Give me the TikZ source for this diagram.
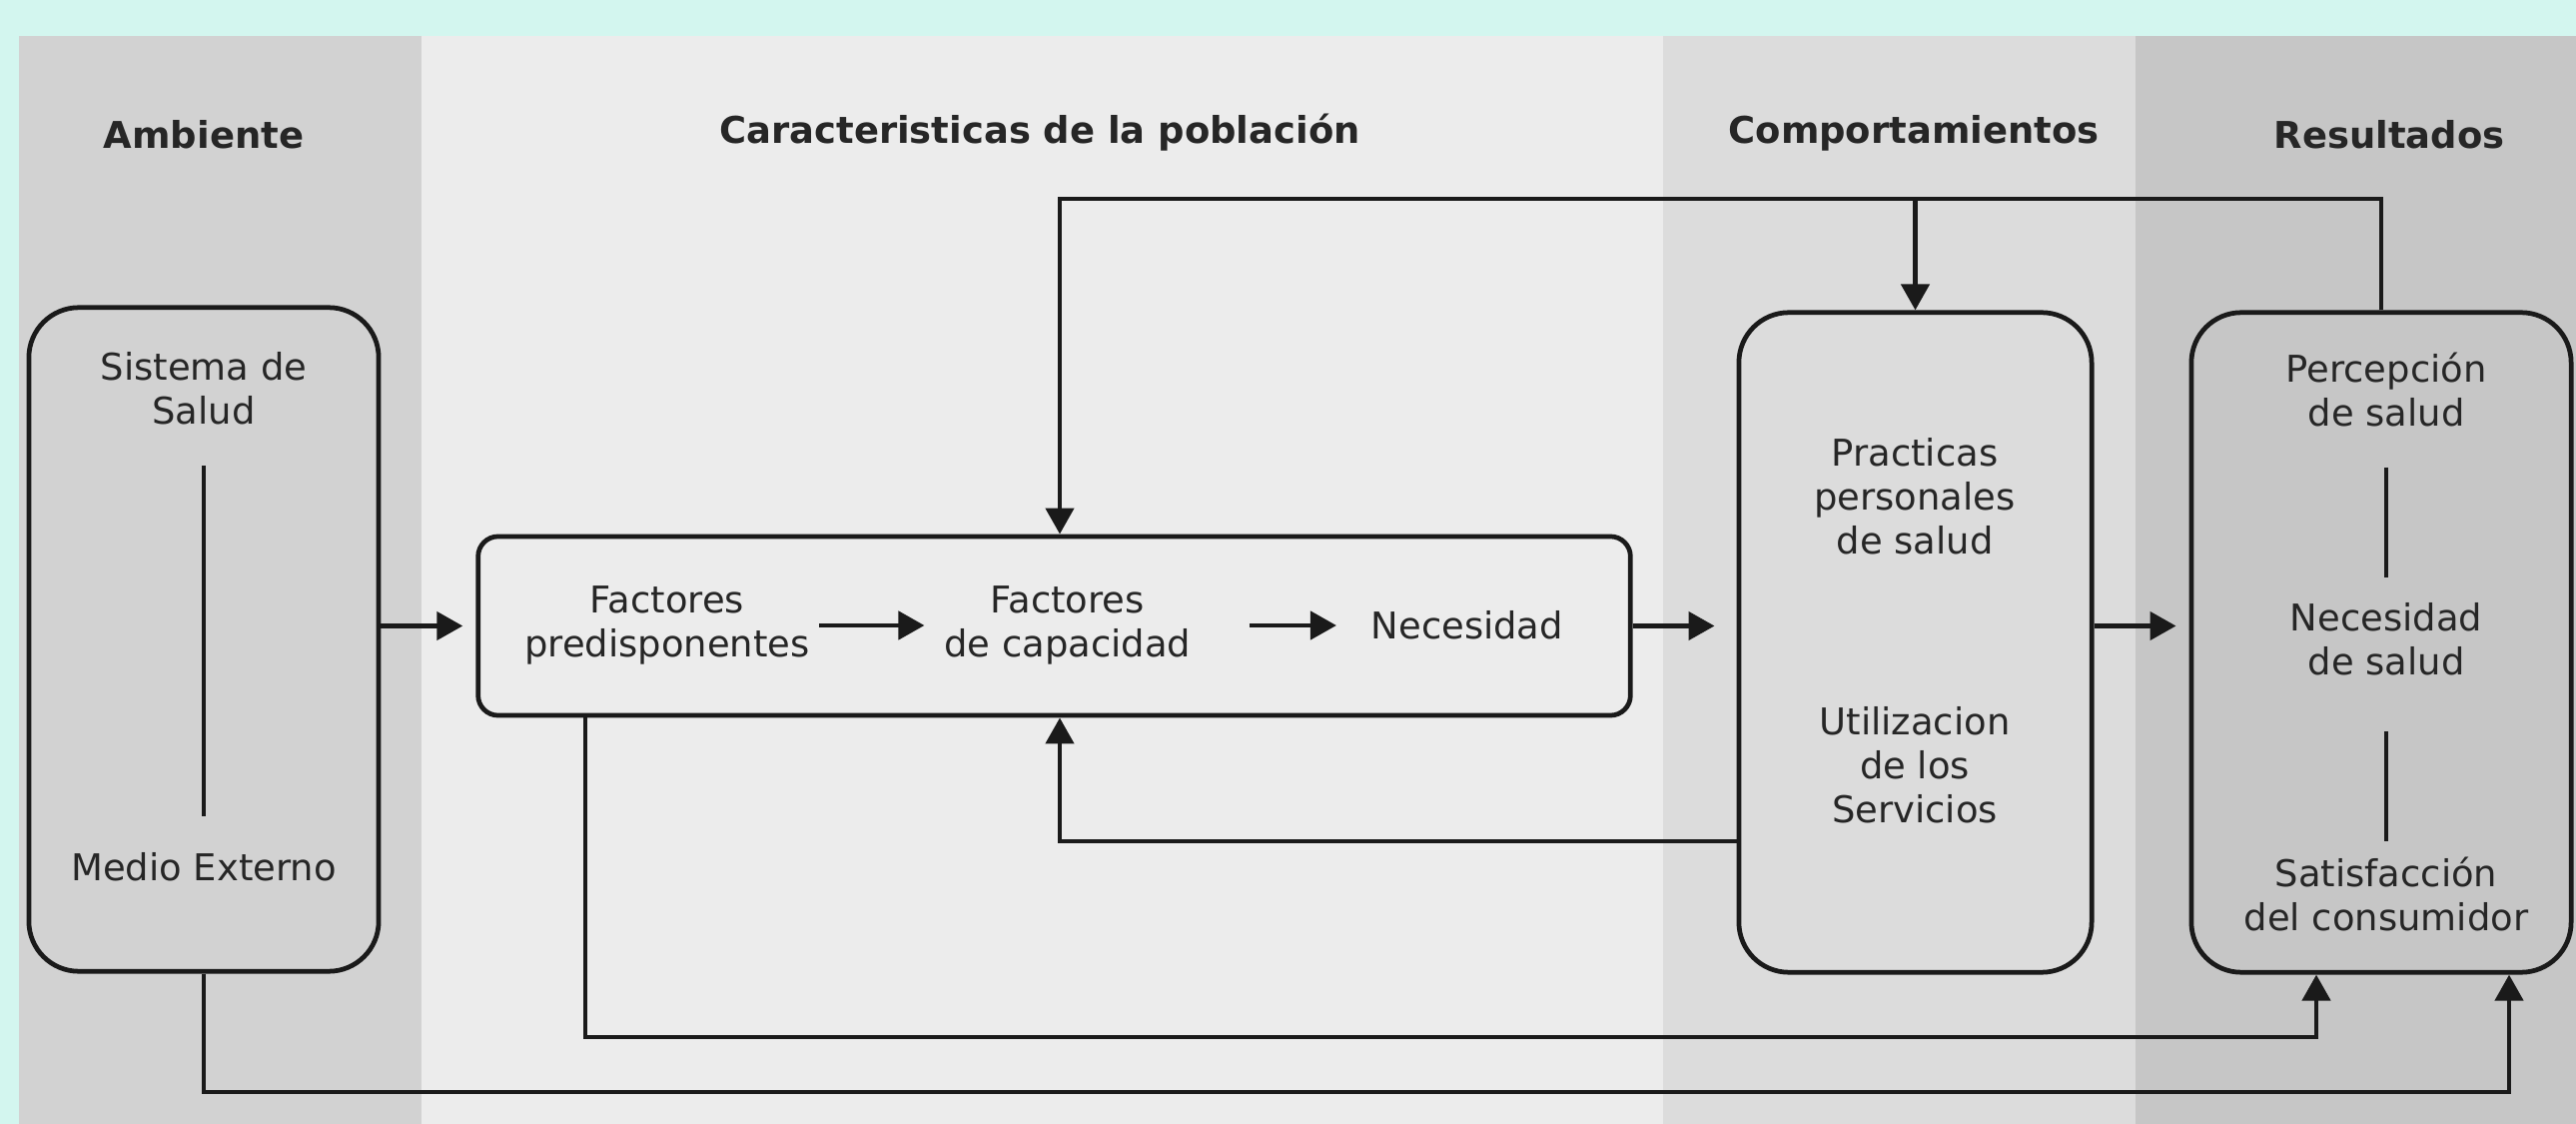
\documentclass[tikz,border=0pt]{standalone}
\usepackage{fontspec}
\setmainfont{DejaVu Sans}
\usepackage{tikz}
\usetikzlibrary{%
  arrows.meta,% Triangle tips
  positioning% wg. " of "
}
\definecolor{bgteal}{HTML}{D3F6EF}
\definecolor{colamb}{HTML}{D2D2D2}
\definecolor{colpob}{HTML}{ECECEC}
\definecolor{colcomp}{HTML}{DCDCDC}
\definecolor{colres}{HTML}{C6C6C6}
\definecolor{ink}{HTML}{1A1A1A}
\definecolor{txt}{HTML}{262626}

\tikzset{
  box/.style={draw=ink, line width=1.35pt, rounded corners=0.5cm, inner sep=0pt},
  lbl/.style={inner sep=0pt, align=center, text=txt, font=\fontsize{10.5}{12.5}\selectfont},
  hdr/.style={lbl, font=\fontsize{10.5}{12.5}\selectfont\bfseries},
  conn/.style={draw=ink, line width=1.3pt},
  arr/.style={-{Triangle[length=0.26cm,width=0.28cm]}}
}

\begin{document}
\begin{tikzpicture}[x=0.01cm,y=-0.01cm]
    \useasboundingbox (0,0) rectangle (2579,1125);
    %background and columns
    \fill[bgteal] (0,0) rectangle (2579,1125);
    \fill[colamb] (19,36) rectangle (422,1125);
    \fill[colpob] (422,36) rectangle (1665,1125);
    \fill[colcomp] (1665,36) rectangle (2138,1125);
    \fill[colres] (2138,36) rectangle (2579,1125);

    %headers
    \node[hdr] (h_amb) at (204,135) {Ambiente};
    \node[hdr] (h_pob) at (1041,133) {Caracteristicas de la población};
    \node[hdr] (h_comp) at (1916,133) {Comportamientos};
    \node[hdr] (h_res) at (2392,135) {Resultados};

    %boxes
    \node[box, fill=colamb, minimum width=3.5cm, minimum height=6.64cm] (amb) at (204,640) {};
    \node[box, fill=colpob, rounded corners=0.2cm, minimum width=11.53cm, minimum height=1.79cm] (mid) at (1055.5,626.5) {};
    \node[box, fill=colcomp, minimum width=3.53cm, minimum height=6.6cm] (comp) at (1917.5,643) {};
    \node[box, fill=colres, minimum width=3.8cm, minimum height=6.6cm] (res) at (2384,643) {};

    %ambiente
    \node[lbl] (sistema) at (204,389) {Sistema de\\Salud};
    \node[lbl] (medio) at (204,868) {Medio Externo};
    %poblacion
    \node[lbl] (predisp) at (668,626) {Factores\\predisponentes};
    \node[lbl] (capac) [right=1.33cm of predisp] {Factores\\de capacidad};
    \node[lbl] (necesidad) [right=1.79cm of capac] {Necesidad};
    %comportamientos
    \node[lbl] (practicas) at (1917,497) {Practicas\\personales\\de salud};
    \node[lbl] (utiliz) at (1917,766) {Utilizacion\\de los\\Servicios};
    %resultados
    \node[lbl] (percep) at (2389,390) {Percepción\\de salud};
    \node[lbl] (necsalud) at (2389,640) {Necesidad\\de salud};
    \node[lbl] (satisf) at (2389,895) {Satisfacción\\del consumidor};

    %lines inside boxes
    \draw[conn, shorten <=0.4cm, shorten >=0.36cm] (sistema) -- (medio);
    \draw[conn, shorten <=0.4cm, shorten >=0.25cm] (percep) -- (necsalud);
    \draw[conn, shorten <=0.55cm, shorten >=0.15cm] (necsalud) -- (satisf);

    %main flow
    \draw[conn, arr, shorten >=0.13cm] (amb.east |- mid.west) -- (mid.west);
    \draw[conn, arr, shorten <=0.09cm, shorten >=0.19cm] (predisp) -- (capac);
    \draw[conn, arr, shorten <=0.58cm, shorten >=0.34cm] (capac) -- (necesidad);
    \draw[conn, arr, shorten >=0.22cm] (mid.east) -- (comp.west |- mid.east);
    \draw[conn, arr, shorten >=0.13cm] (comp.east |- mid.east) -- (res.west |- mid.east);

    %feedback from resultados
    \coordinate (top_l) at (1061,199);
    \draw[conn, arr] (res.north) |- (top_l) -- (top_l |- mid.north);
    \draw[conn, arr] (comp.north |- top_l) -- (comp.north);
    %feedback from comportamientos
    \coordinate (fb_l) at (1061,842);
    \draw[conn, arr] (comp.west |- fb_l) -- (fb_l) -- (fb_l |- mid.south);
    %predisponentes to resultados
    \coordinate (pre_l) at (586,1038);
    \coordinate (pre_r) at (2319,1038);
    \draw[conn, arr] (pre_l |- mid.south) -- (pre_l) -- (pre_r) -- (pre_r |- res.south);
    %ambiente to resultados
    \coordinate (amb_r) at (2512,1093);
    \draw[conn, arr] (amb.south) |- (amb_r) -- (amb_r |- res.south);
\end{tikzpicture}
\end{document}
